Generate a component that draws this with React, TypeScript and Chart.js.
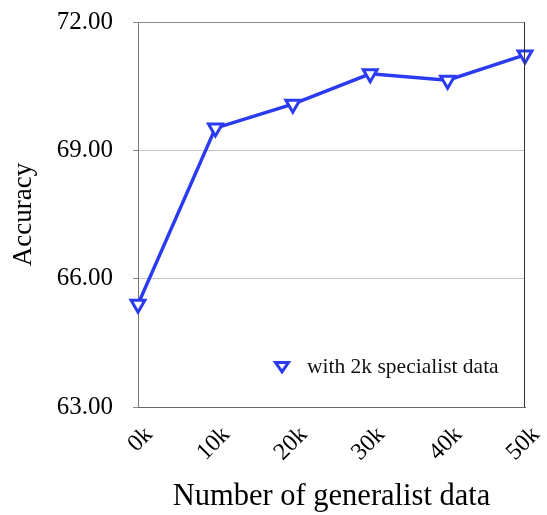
import React, { useEffect, useRef } from "react";
import { Chart, registerables } from "chart.js";

Chart.register(...registerables);

const categories = ["0k", "10k", "20k", "30k", "40k", "50k"];
const accuracy = [65.4, 69.52, 70.08, 70.79, 70.64, 71.23];
const yTicks = [63, 66, 69, 72];
const seriesLabel = "with 2k specialist data";
const xTitle = "Number of generalist data";
const yTitle = "Accuracy";

const BLUE = "#2a3bf2";
const FONT = "'Liberation Serif', 'Times New Roman', serif";

const framePlugin = {
  id: "frame",
  afterDatasetsDraw(chart: any) {
    const { ctx, chartArea } = chart;
    ctx.save();
    ctx.lineWidth = 1;
    ctx.strokeStyle = "#8a8a8a";
    ctx.beginPath();
    ctx.moveTo(chartArea.left, chartArea.top + 0.5);
    ctx.lineTo(chartArea.right, chartArea.top + 0.5);
    ctx.stroke();
    ctx.strokeStyle = "#333333";
    ctx.beginPath();
    ctx.moveTo(chartArea.right - 0.5, chartArea.top);
    ctx.lineTo(chartArea.right - 0.5, chartArea.bottom);
    ctx.stroke();
    ctx.restore();
  },
};

const legendPlugin = {
  id: "innerLegend",
  afterDraw(chart: any) {
    const { ctx } = chart;
    const mx = 282;
    const my = 366;
    ctx.save();
    ctx.fillStyle = "#ffffff";
    ctx.strokeStyle = BLUE;
    ctx.lineWidth = 3;
    const r = 6.5;
    ctx.beginPath();
    ctx.moveTo(mx - r, my - r * 0.55);
    ctx.lineTo(mx + r, my - r * 0.55);
    ctx.lineTo(mx, my + r * 0.9);
    ctx.closePath();
    ctx.fill();
    ctx.stroke();
    ctx.fillStyle = "#111111";
    ctx.font = `21.5px ${FONT}`;
    ctx.textBaseline = "middle";
    ctx.textAlign = "left";
    ctx.fillText(seriesLabel, 307, my + 1);
    ctx.restore();
  },
};

export default function App() {
  const ref = useRef<HTMLCanvasElement>(null);
  useEffect(() => {
    if (!ref.current) return;
    const chart = new Chart(ref.current, {
      type: "line",
      data: {
        labels: categories,
        datasets: [
          {
            label: seriesLabel,
            data: accuracy,
            borderColor: BLUE,
            backgroundColor: "#ffffff",
            borderWidth: 3.5,
            pointStyle: "triangle",
            rotation: 180,
            pointRadius: 8,
            pointBorderWidth: 3,
            pointBackgroundColor: "#ffffff",
            pointBorderColor: BLUE,
            tension: 0,
          },
        ],
      },
      plugins: [framePlugin, legendPlugin],
      options: {
        animation: false,
        responsive: false,
        layout: { padding: { left: 0, right: 22, top: 22, bottom: 0 } },
        plugins: {
          legend: { display: false },
          tooltip: { enabled: false },
        },
        scales: {
          x: {
            type: "category",
            offset: false,
            afterFit(scale: any) {
              scale.height = 108;
              scale.paddingLeft = 0;
              scale.paddingRight = 0;
            },
            grid: { display: false, drawTicks: false },
            border: { display: true, color: "#666666", width: 1 },
            ticks: {
              color: "#000000",
              font: { family: FONT, size: 24 },
              minRotation: 45,
              maxRotation: 45,
              padding: 14,
              labelOffset: 11,
            },
            title: {
              display: true,
              text: xTitle,
              color: "#000000",
              font: { family: FONT, size: 30.5 },
              padding: { top: 0, bottom: 0 },
            },
          },
          y: {
            min: 63,
            max: 72,
            afterFit(scale: any) {
              scale.width = 138;
              scale.paddingTop = 0;
              scale.paddingBottom = 0;
            },
            afterBuildTicks(scale: any) {
              scale.ticks = yTicks.map((v) => ({ value: v }));
            },
            grid: {
              color: (c: any) =>
                c.tick && (c.tick.value === 63 || c.tick.value === 72) ? "rgba(0,0,0,0)" : "#c8c8c8",
              tickColor: "#888888",
              tickLength: 5,
              drawTicks: true,
            },
            border: { display: true, color: "#777777", width: 1 },
            ticks: {
              color: "#000000",
              font: { family: FONT, size: 25 },
              padding: 20,
              callback: (v: any) => Number(v).toFixed(2),
            },
            title: {
              display: true,
              text: yTitle,
              color: "#000000",
              font: { family: FONT, size: 27 },
              padding: { top: 8, bottom: 0 },
            },
          },
        },
      },
    });
    return () => chart.destroy();
  }, []);
  return (
    <div style={{ position: "fixed", left: 0, top: 0, width: 547, height: 515, background: "#fff" }}>
      <canvas ref={ref} width={547} height={515} style={{ display: "block" }} />
    </div>
  );
}
